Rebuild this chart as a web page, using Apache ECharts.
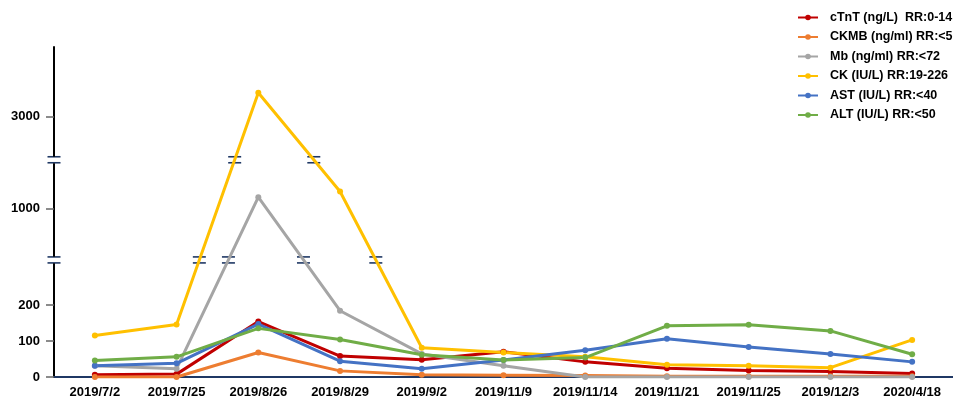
<!DOCTYPE html>
<html>
<head>
<meta charset="utf-8">
<script src="https://cdn.jsdelivr.net/npm/echarts@6/dist/echarts.min.js"></script>
<style>html,body{margin:0;padding:0;background:#fff}#chart{width:953px;height:401px}</style>
</head>
<body>
<div id="chart"></div>
<script>
// dates and lab values
const dates = ['2019/7/2', '2019/7/25', '2019/8/26', '2019/8/29', '2019/9/2', '2019/11/9', '2019/11/14', '2019/11/21', '2019/11/25', '2019/12/3', '2020/4/18'];
const cTnT = [6, 8, 154, 58, 48, 70, 42, 24, 18, 15, 10];
const CKMB = [0, 0, 68, 17, 6, 5, 4, 2, 2, 2, 2];
const Mb = [31, 23, 1032, 184, 64, 31, 0, 0, 0, 0, 0];
const CK = [115, 146, 3067, 1048, 81, 68, 56, 34, 31, 26, 103];
const AST = [31, 38, 147, 44, 23, 47, 74, 106, 83, 64, 42];
const ALT = [46, 56, 135, 104, 62, 47, 54, 142, 145, 128, 63];

const seriesNames = ['cTnT (ng/L)  RR:0-14', 'CKMB (ng/ml) RR:<5', 'Mb (ng/ml) RR:<72', 'CK (IU/L) RR:19-226', 'AST (IU/L) RR:<40', 'ALT (IU/L) RR:<50'];
const colors = ['#c00000', '#ed7d31', '#a5a5a5', '#ffc000', '#4472c4', '#70ad47'];
const yTicks = [0, 100, 200, 1000, 3000];
const axisBreaks = [[314, 869], [1125, 2892]];

const chart = echarts.init(document.getElementById('chart'));
const allData = [cTnT, CKMB, Mb, CK, AST, ALT];

const option = {
	animation: false,
	textStyle: { fontFamily: 'Liberation Sans' },
	grid: { left: 54, right: -15.6, top: 47, bottom: 24 },
	legend: {
		orient: 'vertical',
		left: 797,
		top: 11,
		padding: 0,
		itemWidth: 20,
		itemHeight: 7,
		itemGap: 6.5,
		textStyle: { color: '#000', fontWeight: 'bold', fontSize: 12.5, padding: [0, 0, 0, 7] },
		data: seriesNames
	},
	xAxis: {
		type: 'category',
		data: dates,
		boundaryGap: true,
		axisLine: { lineStyle: { color: '#1f3864', width: 2 } },
		axisTick: { length: 4, lineStyle: { color: '#ccc' } },
		axisLabel: { color: '#000', fontWeight: 'bold', fontSize: 13, margin: 9, interval: 0 }
	},
	yAxis: {
		type: 'value',
		min: 0,
		max: 3194,
		breaks: axisBreaks.map(b => ({ start: b[0], end: b[1], gap: 22 })),
		breakArea: { show: false },
		axisLine: { show: true, lineStyle: { color: '#000', width: 2 } },
		axisTick: { show: true, length: 8, customValues: yTicks, lineStyle: { color: '#666', width: 1.5 } },
		axisLabel: { customValues: yTicks, formatter: v => String(v), color: '#000', fontWeight: 'bold', fontSize: 13, margin: 14 },
		splitLine: { show: false }
	},
	series: allData.map((d, i) => ({
		name: seriesNames[i],
		type: 'line',
		data: d,
		symbol: 'circle',
		symbolSize: 6,
		lineStyle: { width: 3, color: colors[i] },
		itemStyle: { color: colors[i] }
	}))
};
chart.setOption(option);

// "=" break marks on the axis and on lines crossing the breaks
const breakMark = (x, y) => ({
	type: 'group',
	z: 100,
	children: [
		{ type: 'rect', shape: { x: x - 7, y: y - 3, width: 14, height: 6 }, style: { fill: '#fff' } },
		{ type: 'line', shape: { x1: x - 6.5, y1: y - 3, x2: x + 6.5, y2: y - 3 }, style: { stroke: '#1f3864', lineWidth: 1.6 } },
		{ type: 'line', shape: { x1: x - 6.5, y1: y + 3, x2: x + 6.5, y2: y + 3 }, style: { stroke: '#1f3864', lineWidth: 1.6 } }
	]
});

const marks = [];
const p0 = chart.convertToPixel({ gridIndex: 0 }, [0, 0]);
const p1 = chart.convertToPixel({ gridIndex: 0 }, [1, 0]);
const axisX = p0[0] - (p1[0] - p0[0]) / 2;
axisBreaks.forEach(b => {
	const yb = (chart.convertToPixel({ yAxisIndex: 0 }, b[0]) + chart.convertToPixel({ yAxisIndex: 0 }, b[1])) / 2;
	marks.push(breakMark(axisX, yb));
	allData.forEach(d => {
		for (let i = 0; i < d.length - 1; i++) {
			const a = chart.convertToPixel({ gridIndex: 0 }, [i, d[i]]);
			const c = chart.convertToPixel({ gridIndex: 0 }, [i + 1, d[i + 1]]);
			if ((a[1] - yb) * (c[1] - yb) < 0) {
				const t = (yb - a[1]) / (c[1] - a[1]);
				marks.push(breakMark(a[0] + t * (c[0] - a[0]), yb));
			}
		}
	});
});
chart.setOption({ graphic: marks });
</script>
</body>
</html>
